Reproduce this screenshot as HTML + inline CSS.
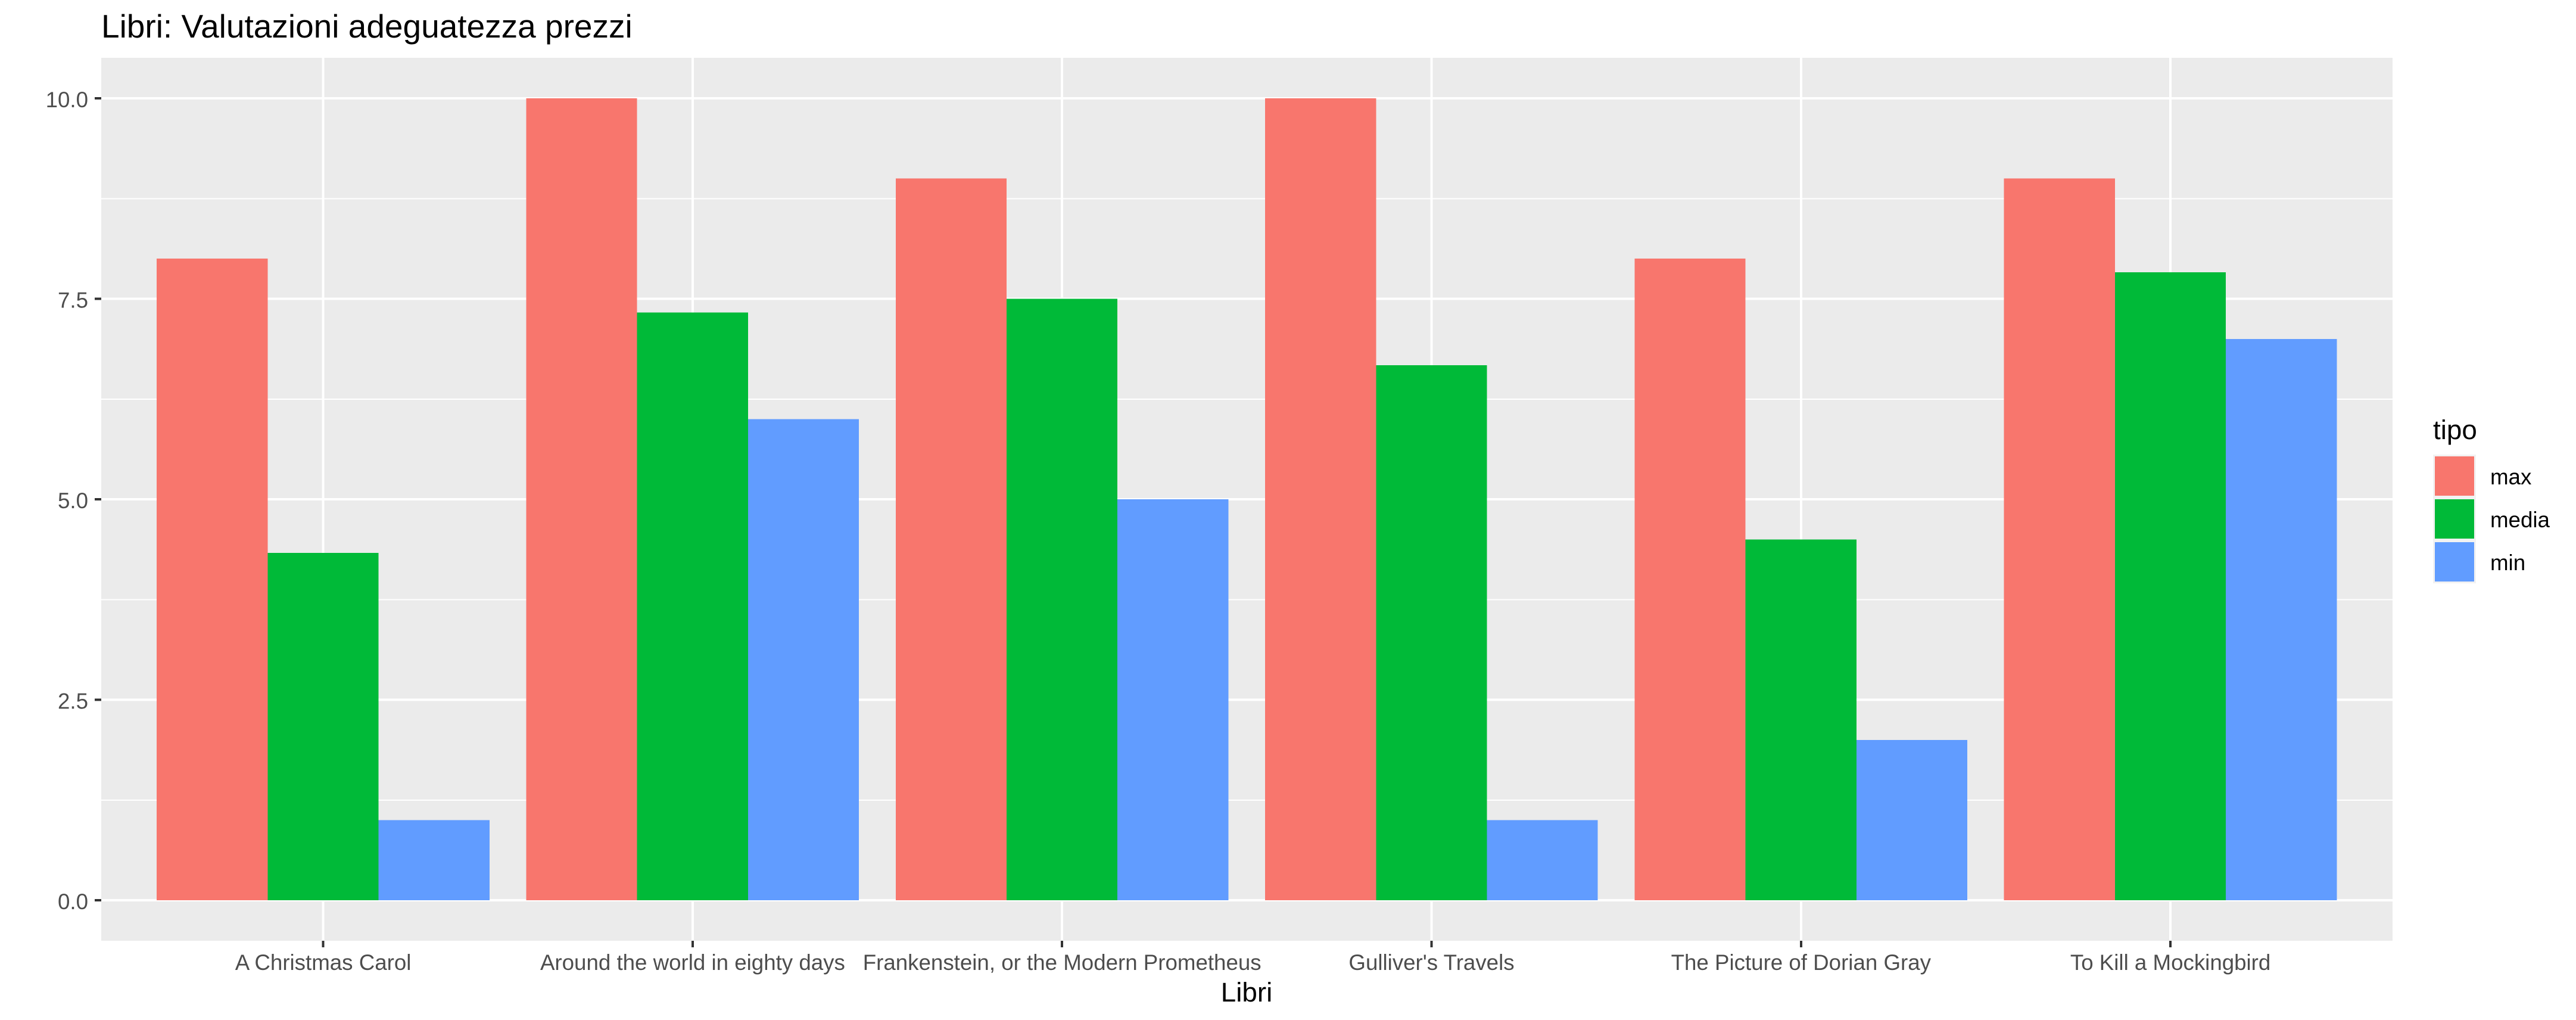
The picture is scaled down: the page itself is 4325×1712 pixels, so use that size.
<!DOCTYPE html>
<html lang="it">
<head>
<meta charset="utf-8">
<title>Libri: Valutazioni adeguatezza prezzi</title>
<style>
html,body{margin:0;padding:0;background:#fff;width:4325px;height:1712px;overflow:hidden}
svg{display:block;shape-rendering:crispEdges}
text{font-family:"Liberation Sans",Arial,sans-serif}
</style>
</head>
<body>
<svg id="chart" xmlns="http://www.w3.org/2000/svg" width="4325" height="1712" viewBox="0 0 4325 1712">
<rect x="0" y="0" width="4325" height="1712" fill="#ffffff"/>
<text x="170" y="63" font-size="55" fill="#000000">Libri: Valutazioni adeguatezza prezzi</text>
<rect x="170" y="97" width="3847" height="1482" fill="#EBEBEB"/>
<g id="grid"></g>
<g id="bars"></g>
<g id="yaxis"></g>
<g id="xaxis"></g>
<text x="2093" y="1681" font-size="45.8" text-anchor="middle" fill="#000000">Libri</text>
<g id="legend">
<text x="4085" y="737" font-size="45.8" fill="#000000">tipo</text>
</g>
</svg>
<script>
const categories = ["A Christmas Carol", "Around the world in eighty days", "Frankenstein, or the Modern Prometheus", "Gulliver's Travels", "The Picture of Dorian Gray", "To Kill a Mockingbird"];
const seriesNames = ["max", "media", "min"];
const maxValues = [8, 10, 9, 10, 8, 9];
const mediaValues = [4.33, 7.33, 7.5, 6.67, 4.5, 7.83];
const minValues = [1, 6, 5, 1, 2, 7];
const yTicks = [0, 2.5, 5, 7.5, 10];
const yMinorTicks = [1.25, 3.75, 6.25, 8.75];
const yTickLabels = ["0.0", "2.5", "5.0", "7.5", "10.0"];

const NS = "http://www.w3.org/2000/svg";
const seriesValues = [maxValues, mediaValues, minValues];
const seriesColors = ["#F8766D", "#00BA38", "#619CFF"];
const panelLeft = 170, panelRight = 4017, panelTop = 97, panelBottom = 1579;
const xScale = function (i) { return 542.6 + 620.3 * i; };
const yScale = function (v) { return 1511 - 134.6 * v; };
const barWidth = 186.2;

function make(tag, attrs, parent) {
  const el = document.createElementNS(NS, tag);
  for (const k in attrs) el.setAttribute(k, attrs[k]);
  parent.appendChild(el);
  return el;
}

const grid = document.getElementById("grid");
yMinorTicks.forEach(function (v) {
  const el = make("line", {x1: panelLeft, x2: panelRight, y1: yScale(v), y2: yScale(v), stroke: "#fff", "stroke-width": 2}, grid);
  
  
});
yTicks.forEach(function (v) {
  const el = make("line", {x1: panelLeft, x2: panelRight, y1: yScale(v), y2: yScale(v), stroke: "#fff", "stroke-width": 4}, grid);
  
  
});
categories.forEach(function (c, i) {
  const el = make("line", {x1: xScale(i), x2: xScale(i), y1: panelTop, y2: panelBottom, stroke: "#fff", "stroke-width": 4}, grid);
  
  
});

const bars = document.getElementById("bars");
categories.forEach(function (c, i) {
  seriesValues.forEach(function (vals, s) {
    const left = xScale(i) + (s - 1.5) * barWidth - 0.1;
    const el = make("rect", {x: left, y: yScale(vals[i]), width: barWidth, height: yScale(0) - yScale(vals[i]), fill: seriesColors[s]}, bars);
    
    
  });
});

const yaxis = document.getElementById("yaxis");
yTicks.forEach(function (v, i) {
  const tick = make("line", {x1: panelLeft - 11, x2: panelLeft, y1: yScale(v), y2: yScale(v), stroke: "#333333", "stroke-width": 4}, yaxis);
  
  
  const label = make("text", {x: 148, y: yScale(v) + 15, "font-size": 36.7, "text-anchor": "end", fill: "#4D4D4D"}, yaxis);
  label.textContent = yTickLabels[i];
  
  
});

const xaxis = document.getElementById("xaxis");
categories.forEach(function (c, i) {
  const tick = make("line", {x1: xScale(i), x2: xScale(i), y1: panelBottom, y2: panelBottom + 11, stroke: "#333333", "stroke-width": 4}, xaxis);
  
  
  const label = make("text", {x: xScale(i), y: 1628, "font-size": 36.7, "text-anchor": "middle", fill: "#4D4D4D"}, xaxis);
  label.textContent = c;
  
  
});

const legend = document.getElementById("legend");
seriesNames.forEach(function (name, s) {
  const top = 763 + 72 * s;
  const key = make("rect", {x: 4085, y: top, width: 72, height: 72, fill: "#F2F2F2"}, legend);
  
  
  const swatch = make("rect", {x: 4088, y: top + 3, width: 66, height: 66, fill: seriesColors[s]}, legend);
  
  
  const label = make("text", {x: 4181, y: top + 50, "font-size": 36.7, fill: "#000000"}, legend);
  label.textContent = name;
  
  
});
</script>
</body>
</html>
